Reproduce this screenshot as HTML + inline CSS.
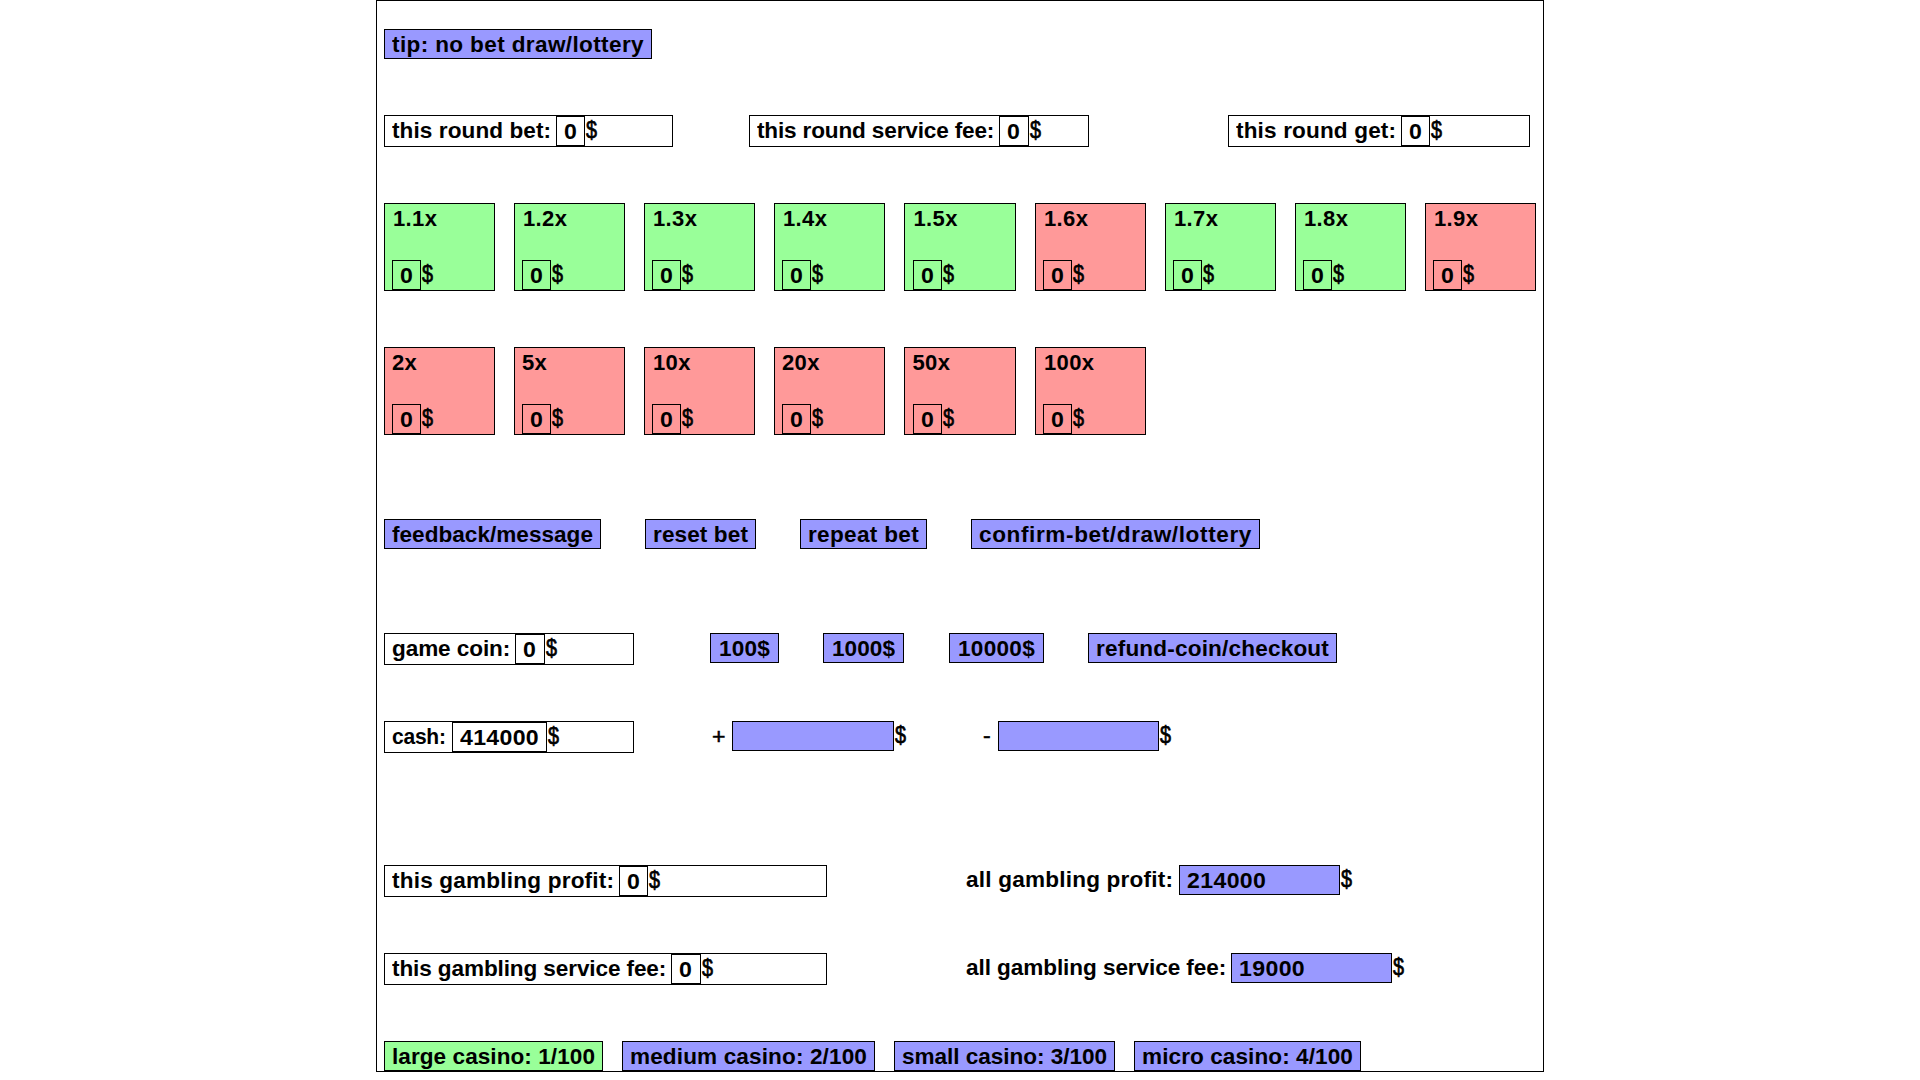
<!DOCTYPE html>
<html><head><meta charset="utf-8"><title>casino</title>
<style>
html,body{margin:0;padding:0;background:#fff;}
body{width:1920px;height:1080px;position:relative;overflow:hidden;font-family:"Liberation Sans", sans-serif;font-weight:bold;font-size:21.5px;color:#000;}
#wrap{position:absolute;left:376px;top:0;width:1168px;height:1072px;border:1px solid #000;box-sizing:border-box;}
.b{position:absolute;box-sizing:border-box;border:1px solid #000;}
.t{position:absolute;white-space:pre;line-height:30px;height:30px;transform-origin:0 50%;display:block;transform:scaleX(1.05);}
.d{font-weight:normal;font-size:23px;-webkit-text-stroke:0.7px #000;transform:scaleX(0.86);}
.n{font-size:22px;}
.p{font-weight:normal;font-size:22px;-webkit-text-stroke:0.5px #000;}
</style></head><body>
<div id="wrap"></div>
<div class="b" style="left:384px;top:29px;width:268px;height:30px;background:#99f;"></div>
<span class="t" style="left:392px;top:30px;letter-spacing:0.344px;transform:scaleX(1.0500);">tip: no bet draw/lottery</span>
<div class="b" style="left:384px;top:115px;width:289px;height:32px;background:#fff;"></div>
<span class="t" style="left:392px;top:116px;letter-spacing:0.076px;transform:scaleX(1.0500);">this round bet:</span>
<div class="b" style="left:556px;top:116px;width:29px;height:30px;"></div>
<span class="t n" style="left:564px;top:117px;letter-spacing:0.000px;transform:scaleX(1.0500);">0</span>
<span class="t d" style="left:586.1px;top:115.4px;">$</span>
<div class="b" style="left:749px;top:115px;width:340px;height:32px;background:#fff;"></div>
<span class="t" style="left:757px;top:116px;letter-spacing:-0.152px;transform:scaleX(1.0500);">this round service fee:</span>
<div class="b" style="left:999px;top:116px;width:30px;height:30px;"></div>
<span class="t n" style="left:1007px;top:117px;letter-spacing:0.000px;transform:scaleX(1.0500);">0</span>
<span class="t d" style="left:1030.1px;top:115.4px;">$</span>
<div class="b" style="left:1228px;top:115px;width:302px;height:32px;background:#fff;"></div>
<span class="t" style="left:1236px;top:116px;letter-spacing:0.139px;transform:scaleX(1.0500);">this round get:</span>
<div class="b" style="left:1401px;top:116px;width:29px;height:30px;"></div>
<span class="t n" style="left:1409px;top:117px;letter-spacing:0.000px;transform:scaleX(1.0500);">0</span>
<span class="t d" style="left:1431.1px;top:115.4px;">$</span>
<div class="b" style="left:384px;top:203px;width:111px;height:88px;background:#9f9;"></div>
<span class="t n" style="left:393px;top:204px;letter-spacing:0.350px;transform:scaleX(1.0000);">1.1x</span>
<div class="b" style="left:392px;top:260px;width:29px;height:30px;"></div>
<span class="t n" style="left:400px;top:261px;letter-spacing:0.000px;transform:scaleX(1.0500);">0</span>
<span class="t d" style="left:422.1px;top:259.4px;">$</span>
<div class="b" style="left:514px;top:203px;width:111px;height:88px;background:#9f9;"></div>
<span class="t n" style="left:523px;top:204px;letter-spacing:0.350px;transform:scaleX(1.0000);">1.2x</span>
<div class="b" style="left:522px;top:260px;width:29px;height:30px;"></div>
<span class="t n" style="left:530px;top:261px;letter-spacing:0.000px;transform:scaleX(1.0500);">0</span>
<span class="t d" style="left:552.1px;top:259.4px;">$</span>
<div class="b" style="left:644px;top:203px;width:111px;height:88px;background:#9f9;"></div>
<span class="t n" style="left:653px;top:204px;letter-spacing:0.350px;transform:scaleX(1.0000);">1.3x</span>
<div class="b" style="left:652px;top:260px;width:29px;height:30px;"></div>
<span class="t n" style="left:660px;top:261px;letter-spacing:0.000px;transform:scaleX(1.0500);">0</span>
<span class="t d" style="left:682.1px;top:259.4px;">$</span>
<div class="b" style="left:774px;top:203px;width:111px;height:88px;background:#9f9;"></div>
<span class="t n" style="left:783px;top:204px;letter-spacing:0.350px;transform:scaleX(1.0000);">1.4x</span>
<div class="b" style="left:782px;top:260px;width:29px;height:30px;"></div>
<span class="t n" style="left:790px;top:261px;letter-spacing:0.000px;transform:scaleX(1.0500);">0</span>
<span class="t d" style="left:812.1px;top:259.4px;">$</span>
<div class="b" style="left:904px;top:203px;width:112px;height:88px;background:#9f9;"></div>
<span class="t n" style="left:913.5px;top:204px;letter-spacing:0.350px;transform:scaleX(1.0000);">1.5x</span>
<div class="b" style="left:913px;top:260px;width:29px;height:30px;"></div>
<span class="t n" style="left:921px;top:261px;letter-spacing:0.000px;transform:scaleX(1.0500);">0</span>
<span class="t d" style="left:943.1px;top:259.4px;">$</span>
<div class="b" style="left:1035px;top:203px;width:111px;height:88px;background:#f99;"></div>
<span class="t n" style="left:1044px;top:204px;letter-spacing:0.350px;transform:scaleX(1.0000);">1.6x</span>
<div class="b" style="left:1043px;top:260px;width:29px;height:30px;"></div>
<span class="t n" style="left:1051px;top:261px;letter-spacing:0.000px;transform:scaleX(1.0500);">0</span>
<span class="t d" style="left:1073.1px;top:259.4px;">$</span>
<div class="b" style="left:1165px;top:203px;width:111px;height:88px;background:#9f9;"></div>
<span class="t n" style="left:1174px;top:204px;letter-spacing:0.350px;transform:scaleX(1.0000);">1.7x</span>
<div class="b" style="left:1173px;top:260px;width:29px;height:30px;"></div>
<span class="t n" style="left:1181px;top:261px;letter-spacing:0.000px;transform:scaleX(1.0500);">0</span>
<span class="t d" style="left:1203.1px;top:259.4px;">$</span>
<div class="b" style="left:1295px;top:203px;width:111px;height:88px;background:#9f9;"></div>
<span class="t n" style="left:1304px;top:204px;letter-spacing:0.350px;transform:scaleX(1.0000);">1.8x</span>
<div class="b" style="left:1303px;top:260px;width:29px;height:30px;"></div>
<span class="t n" style="left:1311px;top:261px;letter-spacing:0.000px;transform:scaleX(1.0500);">0</span>
<span class="t d" style="left:1333.1px;top:259.4px;">$</span>
<div class="b" style="left:1425px;top:203px;width:111px;height:88px;background:#f99;"></div>
<span class="t n" style="left:1434px;top:204px;letter-spacing:0.350px;transform:scaleX(1.0000);">1.9x</span>
<div class="b" style="left:1433px;top:260px;width:29px;height:30px;"></div>
<span class="t n" style="left:1441px;top:261px;letter-spacing:0.000px;transform:scaleX(1.0500);">0</span>
<span class="t d" style="left:1463.1px;top:259.4px;">$</span>
<div class="b" style="left:384px;top:347px;width:111px;height:88px;background:#f99;"></div>
<span class="t n" style="left:392px;top:348px;letter-spacing:0.350px;transform:scaleX(1.0000);">2x</span>
<div class="b" style="left:392px;top:404px;width:29px;height:30px;"></div>
<span class="t n" style="left:400px;top:405px;letter-spacing:0.000px;transform:scaleX(1.0500);">0</span>
<span class="t d" style="left:422.1px;top:403.4px;">$</span>
<div class="b" style="left:514px;top:347px;width:111px;height:88px;background:#f99;"></div>
<span class="t n" style="left:522px;top:348px;letter-spacing:0.350px;transform:scaleX(1.0000);">5x</span>
<div class="b" style="left:522px;top:404px;width:29px;height:30px;"></div>
<span class="t n" style="left:530px;top:405px;letter-spacing:0.000px;transform:scaleX(1.0500);">0</span>
<span class="t d" style="left:552.1px;top:403.4px;">$</span>
<div class="b" style="left:644px;top:347px;width:111px;height:88px;background:#f99;"></div>
<span class="t n" style="left:653px;top:348px;letter-spacing:0.350px;transform:scaleX(1.0000);">10x</span>
<div class="b" style="left:652px;top:404px;width:29px;height:30px;"></div>
<span class="t n" style="left:660px;top:405px;letter-spacing:0.000px;transform:scaleX(1.0500);">0</span>
<span class="t d" style="left:682.1px;top:403.4px;">$</span>
<div class="b" style="left:774px;top:347px;width:111px;height:88px;background:#f99;"></div>
<span class="t n" style="left:782px;top:348px;letter-spacing:0.350px;transform:scaleX(1.0000);">20x</span>
<div class="b" style="left:782px;top:404px;width:29px;height:30px;"></div>
<span class="t n" style="left:790px;top:405px;letter-spacing:0.000px;transform:scaleX(1.0500);">0</span>
<span class="t d" style="left:812.1px;top:403.4px;">$</span>
<div class="b" style="left:904px;top:347px;width:112px;height:88px;background:#f99;"></div>
<span class="t n" style="left:912.5px;top:348px;letter-spacing:0.350px;transform:scaleX(1.0000);">50x</span>
<div class="b" style="left:913px;top:404px;width:29px;height:30px;"></div>
<span class="t n" style="left:921px;top:405px;letter-spacing:0.000px;transform:scaleX(1.0500);">0</span>
<span class="t d" style="left:943.1px;top:403.4px;">$</span>
<div class="b" style="left:1035px;top:347px;width:111px;height:88px;background:#f99;"></div>
<span class="t n" style="left:1044px;top:348px;letter-spacing:0.350px;transform:scaleX(1.0000);">100x</span>
<div class="b" style="left:1043px;top:404px;width:29px;height:30px;"></div>
<span class="t n" style="left:1051px;top:405px;letter-spacing:0.000px;transform:scaleX(1.0500);">0</span>
<span class="t d" style="left:1073.1px;top:403.4px;">$</span>
<div class="b" style="left:384px;top:519px;width:217px;height:30px;background:#99f;"></div>
<span class="t" style="left:392px;top:520px;letter-spacing:0.012px;transform:scaleX(1.0500);">feedback/message</span>
<div class="b" style="left:645px;top:519px;width:111px;height:30px;background:#99f;"></div>
<span class="t" style="left:653px;top:520px;letter-spacing:0.095px;transform:scaleX(1.0500);">reset bet</span>
<div class="b" style="left:800px;top:519px;width:127px;height:30px;background:#99f;"></div>
<span class="t" style="left:808px;top:520px;letter-spacing:0.295px;transform:scaleX(1.0500);">repeat bet</span>
<div class="b" style="left:971px;top:519px;width:289px;height:30px;background:#99f;"></div>
<span class="t" style="left:979px;top:520px;letter-spacing:0.579px;transform:scaleX(1.0500);">confirm-bet/draw/lottery</span>
<div class="b" style="left:384px;top:633px;width:250px;height:32px;background:#fff;"></div>
<span class="t" style="left:392px;top:634px;letter-spacing:-0.093px;transform:scaleX(1.0500);">game coin:</span>
<div class="b" style="left:515px;top:634px;width:30px;height:30px;"></div>
<span class="t n" style="left:523px;top:635px;letter-spacing:0.000px;transform:scaleX(1.0500);">0</span>
<span class="t d" style="left:546.1px;top:633.4px;">$</span>
<div class="b" style="left:710px;top:633px;width:69px;height:30px;background:#99f;"></div>
<span class="t" style="left:719px;top:634px;letter-spacing:0.182px;transform:scaleX(1.0500);">100$</span>
<div class="b" style="left:823px;top:633px;width:81px;height:30px;background:#99f;"></div>
<span class="t" style="left:832px;top:634px;letter-spacing:0.041px;transform:scaleX(1.0500);">1000$</span>
<div class="b" style="left:949px;top:633px;width:95px;height:30px;background:#99f;"></div>
<span class="t" style="left:958px;top:634px;letter-spacing:0.264px;transform:scaleX(1.0500);">10000$</span>
<div class="b" style="left:1088px;top:633px;width:249px;height:30px;background:#99f;"></div>
<span class="t" style="left:1096px;top:634px;letter-spacing:0.165px;transform:scaleX(1.0500);">refund-coin/checkout</span>
<div class="b" style="left:384px;top:721px;width:250px;height:32px;background:#fff;"></div>
<span class="t" style="left:392px;top:722px;letter-spacing:-0.250px;transform:scaleX(0.9778);">cash:</span>
<div class="b" style="left:452px;top:722px;width:95px;height:30px;"></div>
<span class="t n" style="left:460px;top:723px;letter-spacing:0.303px;transform:scaleX(1.0500);">414000</span>
<span class="t d" style="left:548.1px;top:721.4px;">$</span>
<span class="t p" style="left:711.5px;top:722px;">+</span>
<div class="b" style="left:732px;top:721px;width:162px;height:30px;background:#99f;"></div>
<span class="t d" style="left:895.1px;top:720.4px;">$</span>
<span class="t p" style="left:983px;top:721px;">-</span>
<div class="b" style="left:998px;top:721px;width:161px;height:30px;background:#99f;"></div>
<span class="t d" style="left:1160.1px;top:720.4px;">$</span>
<div class="b" style="left:384px;top:865px;width:443px;height:32px;background:#fff;"></div>
<span class="t" style="left:392px;top:866px;letter-spacing:0.181px;transform:scaleX(1.0500);">this gambling profit:</span>
<div class="b" style="left:619px;top:866px;width:29px;height:30px;"></div>
<span class="t n" style="left:627px;top:867px;letter-spacing:0.000px;transform:scaleX(1.0500);">0</span>
<span class="t d" style="left:649.1px;top:865.4px;">$</span>
<span class="t" style="left:966px;top:865px;letter-spacing:0.192px;transform:scaleX(1.0500);">all gambling profit:</span>
<div class="b" style="left:1179px;top:865px;width:161px;height:30px;background:#99f;"></div>
<span class="t n" style="left:1187px;top:866px;letter-spacing:0.350px;transform:scaleX(1.0500);">214000</span>
<span class="t d" style="left:1341.1px;top:864.4px;">$</span>
<div class="b" style="left:384px;top:953px;width:443px;height:32px;background:#fff;"></div>
<span class="t" style="left:392px;top:954px;letter-spacing:-0.112px;transform:scaleX(1.0500);">this gambling service fee:</span>
<div class="b" style="left:671px;top:954px;width:30px;height:30px;"></div>
<span class="t n" style="left:679px;top:955px;letter-spacing:0.000px;transform:scaleX(1.0500);">0</span>
<span class="t d" style="left:702.1px;top:953.4px;">$</span>
<span class="t" style="left:966px;top:953px;letter-spacing:-0.078px;transform:scaleX(1.0500);">all gambling service fee:</span>
<div class="b" style="left:1231px;top:953px;width:161px;height:30px;background:#99f;"></div>
<span class="t n" style="left:1239px;top:954px;letter-spacing:0.350px;transform:scaleX(1.0500);">19000</span>
<span class="t d" style="left:1393.1px;top:952.4px;">$</span>
<div class="b" style="left:384px;top:1041px;width:219px;height:30px;background:#9f9;"></div>
<span class="t" style="left:392px;top:1042px;letter-spacing:0.048px;transform:scaleX(1.0500);">large casino: 1/100</span>
<div class="b" style="left:622px;top:1041px;width:253px;height:30px;background:#99f;"></div>
<span class="t" style="left:630px;top:1042px;letter-spacing:0.113px;transform:scaleX(1.0500);">medium casino: 2/100</span>
<div class="b" style="left:894px;top:1041px;width:221px;height:30px;background:#99f;"></div>
<span class="t" style="left:902px;top:1042px;letter-spacing:-0.040px;transform:scaleX(1.0500);">small casino: 3/100</span>
<div class="b" style="left:1134px;top:1041px;width:227px;height:30px;background:#99f;"></div>
<span class="t" style="left:1142px;top:1042px;letter-spacing:0.072px;transform:scaleX(1.0500);">micro casino: 4/100</span>
</body></html>
